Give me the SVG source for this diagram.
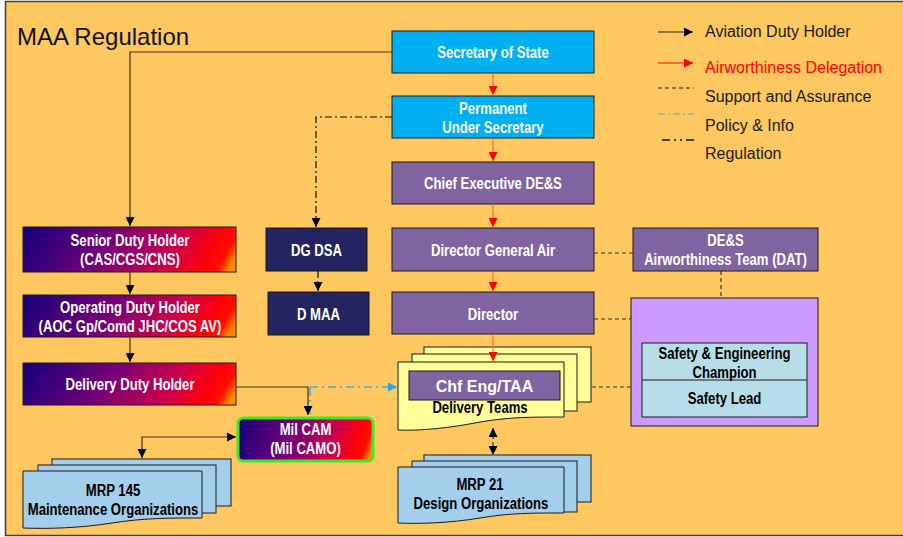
<svg xmlns="http://www.w3.org/2000/svg" width="903" height="537" viewBox="0 0 903 537">
<defs>
<style>
.t{font-family:"Liberation Sans",Arial,sans-serif;font-weight:bold;font-size:16px;text-anchor:middle}
.w{fill:#fff}
.k{fill:#000}
.lg{font-family:"Liberation Sans",Arial,sans-serif;font-size:16px;fill:#1a1a1a}
.box{stroke:#1a1a1a;stroke-width:1}
.blue{fill:#00B0F0}
.purp{fill:#8064A2}
.navy{fill:#23235F}
.grad{fill:url(#g1)}
.doc{fill:#FFFF99;stroke:#1a1a1a;stroke-width:1}
.docb{fill:#A3CEEC;stroke:#1a1a1a;stroke-width:1}
.c{fill:none;stroke:#3d3422;stroke-width:1.2}
.red{fill:none;stroke:#FF5A3C;stroke-width:1}
.sup{fill:none;stroke:#333;stroke-width:1.2;stroke-dasharray:4 3}
.reg{fill:none;stroke:#111;stroke-width:1.2;stroke-dasharray:7 3 2 3}
.pol{fill:none;stroke:#3FB0D8;stroke-width:1.5;stroke-dasharray:8 4 2 4}
</style>
<linearGradient id="g1" x1="0" y1="0" x2="1.063" y2="0.1255">
<stop offset="0" stop-color="#14007C"/>
<stop offset="0.42" stop-color="#780078"/>
<stop offset="0.72" stop-color="#D0004A"/>
<stop offset="0.88" stop-color="#FF0008"/>
<stop offset="0.95" stop-color="#FF1000"/>
<stop offset="1" stop-color="#FF8A00"/>
</linearGradient>
<marker id="ab" viewBox="0 0 10 10" refX="10" refY="5" markerWidth="9" markerHeight="9" markerUnits="userSpaceOnUse" orient="auto-start-reverse"><path d="M0,0 L10,5 L0,10 z" fill="#000"/></marker>
<marker id="ar" viewBox="0 0 10 10" refX="10" refY="5" markerWidth="9" markerHeight="9" markerUnits="userSpaceOnUse" orient="auto-start-reverse"><path d="M0,0 L10,5 L0,10 z" fill="#FF0000"/></marker>
<marker id="ac" viewBox="0 0 10 10" refX="10" refY="5" markerWidth="9" markerHeight="9" markerUnits="userSpaceOnUse" orient="auto-start-reverse"><path d="M0,0 L10,5 L0,10 z" fill="#18A8E8"/></marker>
</defs>
<rect x="0" y="0" width="903" height="537" fill="#fff"/>
<rect x="5.5" y="1.5" width="905" height="534" fill="#FFC75F" stroke="#404040" stroke-width="1.5"/>
<text x="17" y="45" font-family="Liberation Sans,Arial,sans-serif" font-size="24" fill="#111">MAA Regulation</text>

<g id="legend">
<line x1="658" y1="32" x2="693" y2="32" stroke="#6B5A3A" stroke-width="1.5" marker-end="url(#ab)"/>
<text class="lg" x="705" y="37">Aviation Duty Holder</text>
<line x1="658" y1="63" x2="693" y2="63" stroke="#FF0000" stroke-width="1.2" marker-end="url(#ar)"/>
<text class="lg" x="705" y="73" style="fill:#FF0000">Airworthiness Delegation</text>
<line x1="658" y1="88" x2="694" y2="88" stroke="#222" stroke-width="1" stroke-dasharray="4 3"/>
<text class="lg" x="705" y="102">Support and Assurance</text>
<line x1="658" y1="114" x2="694" y2="114" stroke="#3FB0D8" stroke-width="1" stroke-dasharray="7 3 2 3"/>
<text class="lg" x="705" y="131">Policy &amp; Info</text>
<line x1="662" y1="140" x2="694" y2="140" stroke="#111" stroke-width="1.5" stroke-dasharray="8 4 2 4 2 4"/>
<text class="lg" x="705" y="159">Regulation</text>
</g>

<g id="sos"><rect class="box blue" x="392" y="31" width="202" height="42"/><text class="t w" transform="translate(493,58) scale(0.82,1)">Secretary of State</text></g>
<g id="pus"><rect class="box blue" x="392" y="96" width="202" height="42"/><text class="t w" transform="translate(493,114) scale(0.82,1)">Permanent</text><text class="t w" transform="translate(493,133) scale(0.82,1)">Under Secretary</text></g>
<g id="ce"><rect class="box purp" x="392" y="162" width="202" height="42"/><text class="t w" transform="translate(493,189) scale(0.82,1)">Chief Executive DE&amp;S</text></g>
<g id="dga"><rect class="box purp" x="392" y="228" width="202" height="43"/><text class="t w" transform="translate(493,256) scale(0.82,1)">Director General Air</text></g>
<g id="director"><rect class="box purp" x="392" y="292" width="202" height="42"/><text class="t w" transform="translate(493,320) scale(0.82,1)">Director</text></g>
<g id="dat"><rect class="box purp" x="633" y="228" width="185" height="43"/><text class="t w" transform="translate(725.5,246) scale(0.82,1)">DE&amp;S</text><text class="t w" transform="translate(725.5,265) scale(0.82,1)">Airworthiness Team (DAT)</text></g>
<g id="sec">
<rect class="box" x="631" y="298" width="187" height="128" fill="#CC99FF"/>
<rect class="box" x="642" y="343" width="165" height="74" fill="#B7DEE8"/>
<line x1="642" y1="380" x2="807" y2="380" stroke="#1a1a1a" stroke-width="1"/>
<text class="t k" transform="translate(724.5,359) scale(0.82,1)">Safety &amp; Engineering</text>
<text class="t k" transform="translate(724.5,378) scale(0.82,1)">Champion</text>
<text class="t k" transform="translate(724.5,404) scale(0.82,1)">Safety Lead</text>
</g>
<g id="sdh"><rect class="box grad" x="23" y="227" width="213" height="45"/><text class="t w" transform="translate(130,246) scale(0.82,1)">Senior Duty Holder</text><text class="t w" transform="translate(130,265) scale(0.82,1)">(CAS/CGS/CNS)</text></g>
<g id="odh"><rect class="box grad" x="23" y="295" width="213" height="42"/><text class="t w" transform="translate(130,313) scale(0.82,1)">Operating Duty Holder</text><text class="t w" transform="translate(130,332) scale(0.82,1)">(AOC Gp/Comd JHC/COS AV)</text></g>
<g id="ddh"><rect class="box grad" x="23" y="363" width="213" height="42"/><text class="t w" transform="translate(130,390) scale(0.82,1)">Delivery Duty Holder</text></g>
<g id="dgdsa"><rect class="box navy" x="266" y="228" width="101" height="43"/><text class="t w" transform="translate(316.5,256) scale(0.82,1)">DG DSA</text></g>
<g id="dmaa"><rect class="box navy" x="268" y="292" width="101" height="43"/><text class="t w" transform="translate(318.5,320) scale(0.82,1)">D MAA</text></g>
<g id="milcam"><rect x="238" y="418" width="135" height="43" rx="5" fill="url(#g1)" stroke="#33EE22" stroke-width="3"/><text class="t w" transform="translate(305.5,435) scale(0.82,1)">Mil CAM</text><text class="t w" transform="translate(305.5,454) scale(0.82,1)">(Mil CAMO)</text></g>
<g id="dt">
<rect class="doc" x="424" y="347" width="167" height="55"/>
<rect class="doc" x="412" y="354" width="165" height="57"/>
<path class="doc" d="M398,362 H564 V417 C530,417 510,417 480,422 C450,428 420,431 398,430 Z"/>
<rect class="box purp" x="409" y="371" width="151" height="29"/>
<text class="t w" x="484.5" y="392">Chf Eng/TAA</text>
<text class="t k" transform="translate(480,413) scale(0.82,1)">Delivery Teams</text>
</g>
<g id="mrp21">
<rect class="docb" x="424" y="455" width="167" height="47"/>
<rect class="docb" x="412" y="461" width="165" height="51"/>
<path class="docb" d="M398,467 H564 V513 C530,513 510,513 480,518 C450,523 420,524 398,523 Z"/>
<text class="t k" transform="translate(480,490) scale(0.82,1)">MRP 21</text>
<text class="t k" transform="translate(481,509) scale(0.82,1)">Design Organizations</text>
</g>
<g id="mrp145">
<rect class="docb" x="52" y="459" width="179" height="47"/>
<rect class="docb" x="38" y="465" width="178" height="48"/>
<path class="docb" d="M23,471 H202 V518 C165,518 145,518 112,523 C80,528 50,529 23,528 Z"/>
<text class="t k" transform="translate(113,496) scale(0.82,1)">MRP 145</text>
<text class="t k" transform="translate(113,515) scale(0.82,1)">Maintenance Organizations</text>
</g>

<g id="connectors">
<path class="c" d="M392,52 H130 V226" marker-end="url(#ab)"/>
<path class="c" d="M130,272 V294" marker-end="url(#ab)"/>
<path class="c" d="M130,337 V362" marker-end="url(#ab)"/>
<path class="pol" d="M310,388 V414"/>
<path class="pol" d="M310,387 H397" marker-end="url(#ac)"/>
<path class="c" d="M236,387 H308 V415" marker-end="url(#ab)"/>
<path class="c" d="M236,437 H142 V458" marker-start="url(#ab)" marker-end="url(#ab)"/>
<path class="reg" d="M392,117 H316 V227" marker-end="url(#ab)"/>
<path class="reg" d="M318,271 V291" marker-end="url(#ab)"/>
<path class="red" d="M493,73 V95" marker-end="url(#ar)"/>
<path class="red" d="M493,138 V161" marker-end="url(#ar)"/>
<path class="red" d="M493,204 V227" marker-end="url(#ar)"/>
<path class="red" d="M493,271 V291" marker-end="url(#ar)"/>
<path class="red" d="M493,334 V361" marker-end="url(#ar)"/>
<path class="sup" d="M594,253 H633"/>
<path class="sup" d="M721,271 V298"/>
<path class="sup" d="M594,319 H631"/>
<path class="sup" d="M592,387 H631"/>
<path class="sup" d="M493,428 V455" marker-start="url(#ab)" marker-end="url(#ab)"/>
</g>
</svg>
